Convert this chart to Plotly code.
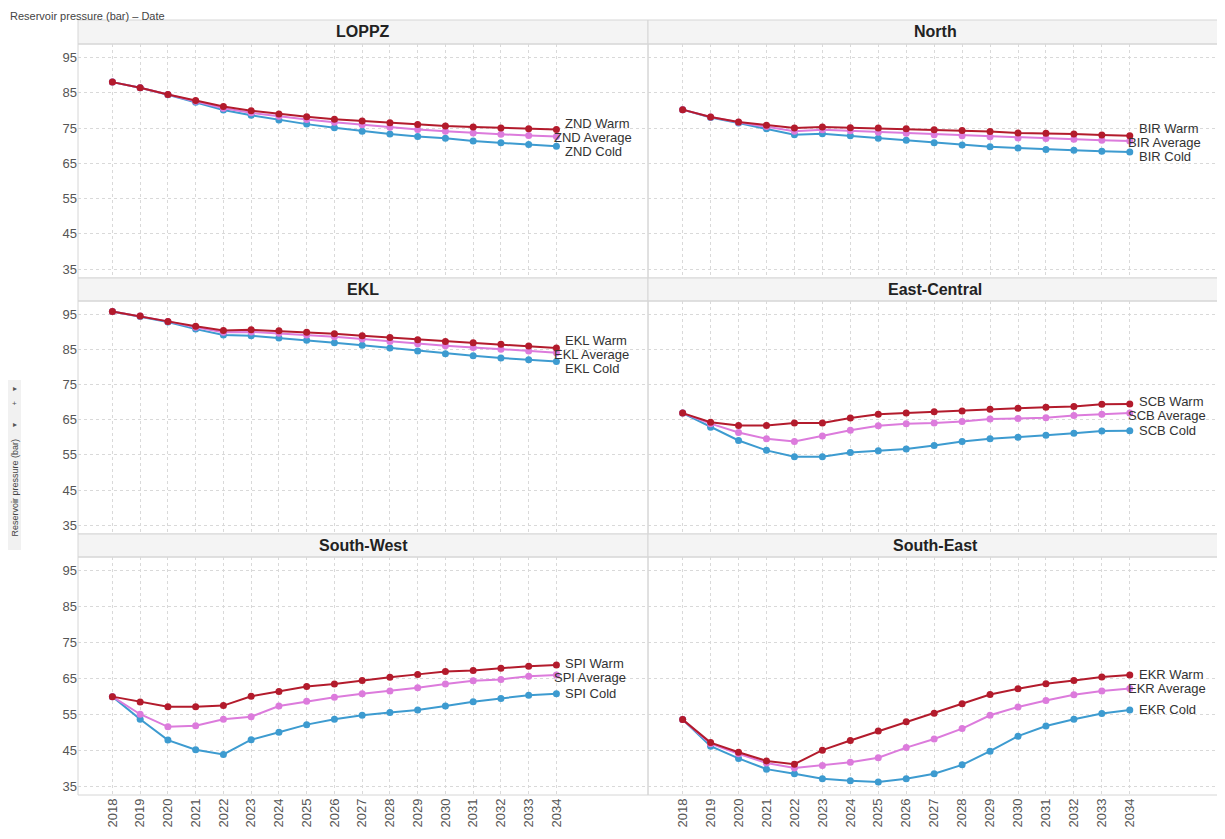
import plotly.graph_objects as go

# page has an 8px body margin, so figure is sized to fit the 1225x839 window
OFF = 8
W, H = 1225 - OFF, 839 - OFF

years = list(range(2018, 2035))
panel_titles = ["LOPPZ", "North", "EKL", "East-Central", "South-West", "South-East"]
codes = ["ZND", "BIR", "EKL", "SCB", "SPI", "EKR"]
y_ticks = [35, 45, 55, 65, 75, 85, 95]

znd_warm = [88.0, 86.4, 84.5, 82.8, 81.1, 79.9, 79.0, 78.2, 77.5, 77.0, 76.5, 76.0, 75.6, 75.3, 75.0, 74.8, 74.6]
znd_avg = [88.0, 86.4, 84.5, 82.6, 80.6, 79.3, 78.3, 77.4, 76.6, 75.9, 75.2, 74.6, 74.1, 73.6, 73.2, 72.9, 72.6]
znd_cold = [88.0, 86.4, 84.4, 82.3, 80.1, 78.6, 77.3, 76.1, 75.1, 74.1, 73.3, 72.6, 72.1, 71.3, 70.8, 70.3, 69.8]

bir_warm = [80.2, 78.1, 76.7, 75.8, 75.0, 75.3, 75.1, 75.0, 74.8, 74.5, 74.3, 74.0, 73.6, 73.5, 73.3, 73.0, 72.8]
bir_avg = [80.2, 78.1, 76.6, 75.4, 74.1, 74.5, 74.2, 73.8, 73.5, 73.1, 72.8, 72.5, 72.2, 72.0, 71.8, 71.5, 71.3]
bir_cold = [80.2, 78.0, 76.4, 74.8, 73.1, 73.4, 72.8, 72.1, 71.5, 70.8, 70.2, 69.7, 69.3, 68.9, 68.7, 68.4, 68.2]

ekl_warm = [95.8, 94.5, 93.0, 91.6, 90.4, 90.6, 90.3, 89.9, 89.5, 88.9, 88.4, 87.8, 87.3, 86.9, 86.5, 86.0, 85.4]
ekl_avg = [95.8, 94.5, 93.0, 91.3, 89.9, 90.0, 89.6, 89.1, 88.6, 88.0, 87.3, 86.6, 86.1, 85.6, 85.1, 84.6, 84.1]
ekl_cold = [95.8, 94.4, 92.8, 90.8, 89.1, 88.9, 88.3, 87.6, 86.9, 86.2, 85.4, 84.6, 83.8, 83.2, 82.6, 82.1, 81.6]

scb_warm = [66.9, 64.3, 63.4, 63.4, 64.1, 64.1, 65.5, 66.6, 66.9, 67.3, 67.5, 68.0, 68.3, 68.6, 68.8, 69.4, 69.5]
scb_avg = [66.9, 63.9, 61.4, 59.6, 58.8, 60.4, 62.0, 63.3, 63.9, 64.1, 64.5, 65.2, 65.4, 65.6, 66.2, 66.6, 66.9]
scb_cold = [66.9, 62.9, 59.1, 56.3, 54.5, 54.5, 55.7, 56.2, 56.7, 57.7, 58.8, 59.6, 60.0, 60.6, 61.2, 61.8, 61.9]

spi_warm = [59.9, 58.4, 57.1, 57.1, 57.4, 60.0, 61.3, 62.7, 63.4, 64.4, 65.3, 66.1, 66.9, 67.2, 67.8, 68.4, 68.7]
spi_avg = [59.9, 55.0, 51.5, 51.8, 53.6, 54.3, 57.3, 58.6, 59.7, 60.7, 61.5, 62.4, 63.4, 64.3, 64.7, 65.6, 65.9]
spi_cold = [59.9, 53.6, 47.8, 45.1, 43.8, 47.9, 50.0, 52.1, 53.6, 54.7, 55.5, 56.2, 57.3, 58.5, 59.4, 60.3, 60.7]

ekr_warm = [53.5, 47.1, 44.4, 42.0, 41.1, 45.0, 47.7, 50.3, 52.9, 55.3, 57.9, 60.5, 62.1, 63.5, 64.4, 65.4, 65.9]
ekr_avg = [53.5, 46.8, 44.0, 41.4, 40.0, 40.7, 41.6, 42.9, 45.7, 48.1, 51.0, 54.7, 57.0, 58.8, 60.4, 61.5, 62.2]
ekr_cold = [53.5, 46.1, 42.7, 39.7, 38.4, 37.0, 36.5, 36.1, 37.0, 38.4, 40.9, 44.7, 48.9, 51.7, 53.6, 55.2, 56.2]

series = {
    "ZND": (znd_warm, znd_avg, znd_cold),
    "BIR": (bir_warm, bir_avg, bir_cold),
    "EKL": (ekl_warm, ekl_avg, ekl_cold),
    "SCB": (scb_warm, scb_avg, scb_cold),
    "SPI": (spi_warm, spi_avg, spi_cold),
    "EKR": (ekr_warm, ekr_avg, ekr_cold),
}

C_WARM = "#b31b2c"
C_AVG = "#dc7bdc"
C_COLD = "#3d9bd0"

Y_RANGE = [32.5, 98.8]
LABEL_GAP = 14  # minimum vertical spacing (px) between end labels

# layout geometry in window pixels
col_x = [(78, 648), (648, 1222)]
rows = [(20, 44, 278), (278, 301, 534), (534, 557, 795)]  # header top, plot top, plot bottom


def px_x(x):
    return (x - OFF) / W


def px_y(y):
    return 1 - (y - OFF) / H


def spread(ends_px):
    """Return pixel offsets that keep labels at least LABEL_GAP apart."""
    order = sorted(range(len(ends_px)), key=lambda k: ends_px[k])
    p = [ends_px[k] for k in order]
    for _ in range(100):
        for j in range(1, len(p)):
            d = p[j] - p[j - 1]
            if d < LABEL_GAP:
                m = (LABEL_GAP - d) / 2
                p[j - 1] -= m
                p[j] += m
    out = [0.0] * len(ends_px)
    for idx, k in enumerate(order):
        out[k] = p[idx] - ends_px[k]
    return out


fig = go.Figure()
layout = dict(
    width=W, height=H, margin=dict(l=0, r=0, t=0, b=0),
    paper_bgcolor="white", plot_bgcolor="white", showlegend=False,
    font=dict(family="Liberation Sans, Arial, sans-serif", color="#333"),
)
annotations = []
shapes = []

for i, code in enumerate(codes):
    r, c = divmod(i, 2)
    n = i + 1
    xa = "x" if n == 1 else f"x{n}"
    ya = "y" if n == 1 else f"y{n}"
    x0, x1 = col_x[c]
    ht, pt, pb = rows[r]
    layout["xaxis" if n == 1 else f"xaxis{n}"] = dict(
        domain=[px_x(x0), px_x(x1)], range=[2016.76, 2037.3], anchor=ya,
        tickmode="array", tickvals=years, ticktext=[str(y) for y in years],
        showticklabels=(r == 2), tickangle=-90,
        tickfont=dict(size=13, color="#555"),
        showgrid=True, gridcolor="#d9d9d9", griddash="dot", gridwidth=1,
        zeroline=False, showline=False, ticks="",
    )
    layout["yaxis" if n == 1 else f"yaxis{n}"] = dict(
        domain=[px_y(pb), px_y(pt)], range=Y_RANGE, anchor=xa,
        tickmode="array", tickvals=y_ticks,
        showticklabels=(c == 0), tickfont=dict(size=13, color="#555"),
        showgrid=True, gridcolor="#d9d9d9", griddash="dot", gridwidth=1,
        zeroline=False, showline=False, ticks="",
    )
    warm, avg, cold = series[code]
    sets = ((cold, C_COLD, "Cold"), (avg, C_AVG, "Average"), (warm, C_WARM, "Warm"))
    ppu = (pb - pt) / (Y_RANGE[1] - Y_RANGE[0])
    ends_px = [pt + (Y_RANGE[1] - v[-1]) * ppu for v, _, _ in sets]
    shifts = spread(ends_px)
    for (vals, col, name), sh in zip(sets, shifts):
        fig.add_trace(go.Scatter(
            x=years, y=vals, mode="lines+markers", xaxis=xa, yaxis=ya,
            line=dict(color=col, width=2), marker=dict(color=col, size=7),
            name=f"{code} {name}", hoverinfo="x+y+name",
        ))
        annotations.append(dict(
            x=years[-1], y=vals[-1], xref=xa, yref=ya, text=f"{code} {name}",
            showarrow=False, xanchor="left", yanchor="middle",
            xshift=(-4 if name == "Average" else 7), yshift=-sh,
            font=dict(size=13, color="#333"),
        ))
    # header strip
    shapes.append(dict(type="rect", xref="paper", yref="paper",
                       x0=px_x(x0), x1=px_x(x1), y0=px_y(pt), y1=px_y(ht),
                       fillcolor="#f4f4f4", line=dict(color="#d6d6d6", width=1), layer="below"))
    # panel border
    shapes.append(dict(type="rect", xref="paper", yref="paper",
                       x0=px_x(x0), x1=px_x(x1), y0=px_y(pb), y1=px_y(pt),
                       fillcolor="rgba(0,0,0,0)", line=dict(color="#d6d6d6", width=1), layer="below"))
    annotations.append(dict(
        x=(px_x(x0) + px_x(x1)) / 2, y=px_y((ht + pt) / 2), xref="paper", yref="paper",
        text=f"<b>{panel_titles[i]}</b>", showarrow=False, xanchor="center", yanchor="middle",
        font=dict(size=16, color="#222"),
    ))

# top title
annotations.append(dict(x=px_x(OFF), y=px_y(OFF), xref="paper", yref="paper",
                        text="Reservoir pressure (bar) – Date", showarrow=False,
                        xanchor="left", yanchor="top", font=dict(size=11, color="#444")))

# left axis title strip (Tableau-like)
shapes.append(dict(type="rect", xref="paper", yref="paper",
                   x0=px_x(8), x1=px_x(21), y0=px_y(550), y1=px_y(380),
                   fillcolor="#f1f1f1", line=dict(width=0), layer="below"))
annotations.append(dict(x=px_x(14.5), y=px_y(488), xref="paper", yref="paper",
                        text="Reservoir pressure (bar)", showarrow=False, textangle=-90,
                        xanchor="center", yanchor="middle", font=dict(size=9, color="#444")))
for ty, tx in ((388, "▸"), (403, "+"), (424, "▸")):
    annotations.append(dict(x=px_x(14.5), y=px_y(ty), xref="paper", yref="paper",
                            text=tx, showarrow=False, xanchor="center", yanchor="middle",
                            font=dict(size=8, color="#555")))

layout["annotations"] = annotations
layout["shapes"] = shapes
fig.update_layout(**layout)
fig.write_html("out.html")
